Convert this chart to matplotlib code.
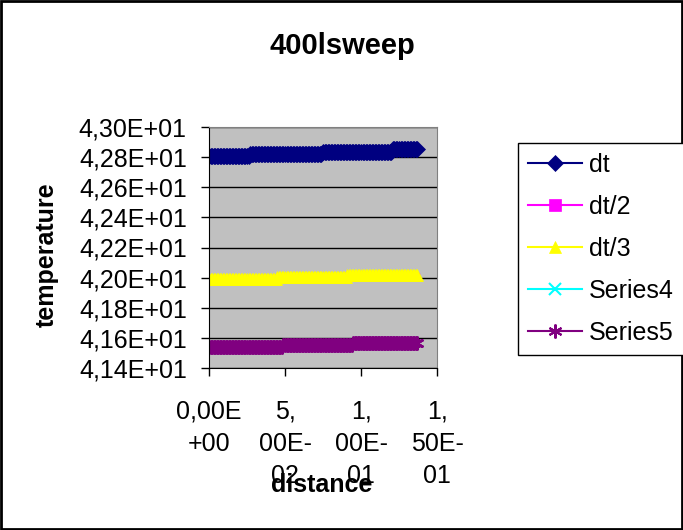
import numpy as np
import matplotlib.pyplot as plt
from matplotlib.ticker import FuncFormatter
from matplotlib.patches import Rectangle

plt.rcParams['font.family'] = 'Liberation Sans'

# distance samples (the sheet has one row per step)
distance = np.round(np.arange(0, 0.1375, 0.001), 4)

# temperature levels, with the distance where each level starts
dt_starts = [0.0, 0.027, 0.0745, 0.121]
dt_levels = [42.810, 42.824, 42.834, 42.851]
dt3_starts = [0.0, 0.0447, 0.0908]
dt3_levels = [41.990, 42.001, 42.017]
s5_starts = [0.0, 0.049, 0.095]
s5_levels = [41.541, 41.553, 41.568]


def steps(starts, levels):
    idx = np.searchsorted(starts, distance, side='right') - 1
    return np.array(levels)[idx]


dt = steps(dt_starts, dt_levels)
dt2 = steps(dt3_starts, dt3_levels)     # hidden under dt/3
dt3 = steps(dt3_starts, dt3_levels)
s4 = steps(s5_starts, s5_levels)        # hidden under Series5
s5 = steps(s5_starts, s5_levels)

series = [
    ('dt', dt, '#000080', 'D', 8),
    ('dt/2', dt2, '#FF00FF', 's', 8),
    ('dt/3', dt3, '#FFFF00', '^', 9),
    ('Series4', s4, '#00FFFF', 'x', 8),
    ('Series5', s5, '#800080', (6, 2, 0), 10),
]
hidden = ['dt/2', 'Series4']

xticks = [0, 0.05, 0.10, 0.15]
xlabels = ['0,00E\n+00', '5,\n00E-\n02', '1,\n00E-\n01', '1,\n50E-\n01']

fig = plt.figure(figsize=(6.83, 5.30), dpi=100)
ax = fig.add_axes([209/683, 1-368/530, (437-209)/683, (368-127)/530])
ax.set_facecolor('#C0C0C0')

for name, y, c, m, ms in series:
    line, = ax.plot(distance, y, color=c, marker=m, markersize=ms, lw=1.5,
                    markeredgewidth=1.5 if m in ('x', (6, 2, 0)) else 0.5,
                    markeredgecolor=c, label=name)
    if name in hidden:
        # drawn underneath the next series; keep it small so it stays covered
        ax.plot(distance, y, color=c, marker=m, markersize=3, lw=1)
        line.set_visible(False)

ax.set_xlim(0, 0.15)
ax.set_ylim(41.4, 43.0)
ax.set_yticks(np.arange(41.4, 43.01, 0.2))
ax.yaxis.set_major_formatter(FuncFormatter(
    lambda v, p: ('%.2f' % (v / 10)).replace('.', ',') + 'E+01'))
ax.set_xticks(xticks)
ax.set_xticklabels(xlabels, linespacing=1.43, va='top')
ax.grid(axis='y', color='black', lw=1)
ax.set_axisbelow(True)
ax.tick_params(axis='y', direction='out', length=6, width=1, pad=10, labelsize=18)
ax.tick_params(axis='x', direction='out', length=6, width=1, pad=17, labelsize=18)
for s in ['top', 'right']:
    ax.spines[s].set_color('#808080')
for s in ['left', 'bottom']:
    ax.spines[s].set_color('black')

fig.text(342/683, 1-46/530, '400lsweep', ha='center', va='center',
         fontsize=21, fontweight='bold')
fig.text(47/683, 1-255/530, 'temperature', ha='center', va='center',
         rotation=90, fontsize=18, fontweight='bold')
fig.text(322/683, 1-485/530, 'distance', ha='center', va='center',
         fontsize=18, fontweight='bold')

handles, labels = ax.get_legend_handles_labels()
for h in handles:
    h.set_visible(True)
leg = fig.legend(handles, labels, loc='upper left', bbox_to_anchor=(518/683, 1-143/530),
                 fontsize=18, frameon=True, fancybox=False, edgecolor='black',
                 framealpha=1, borderpad=0.4, labelspacing=0.72,
                 handlelength=2.16, handletextpad=0.28, borderaxespad=0)
leg.get_frame().set_linewidth(1)
for h in handles:
    if h.get_label() in hidden:
        h.set_visible(False)

fig.patches.append(Rectangle((0.002, 0.002), 0.996, 0.996, transform=fig.transFigure,
                             fill=False, edgecolor='black', lw=2))

fig.savefig('out.png', dpi=100)
